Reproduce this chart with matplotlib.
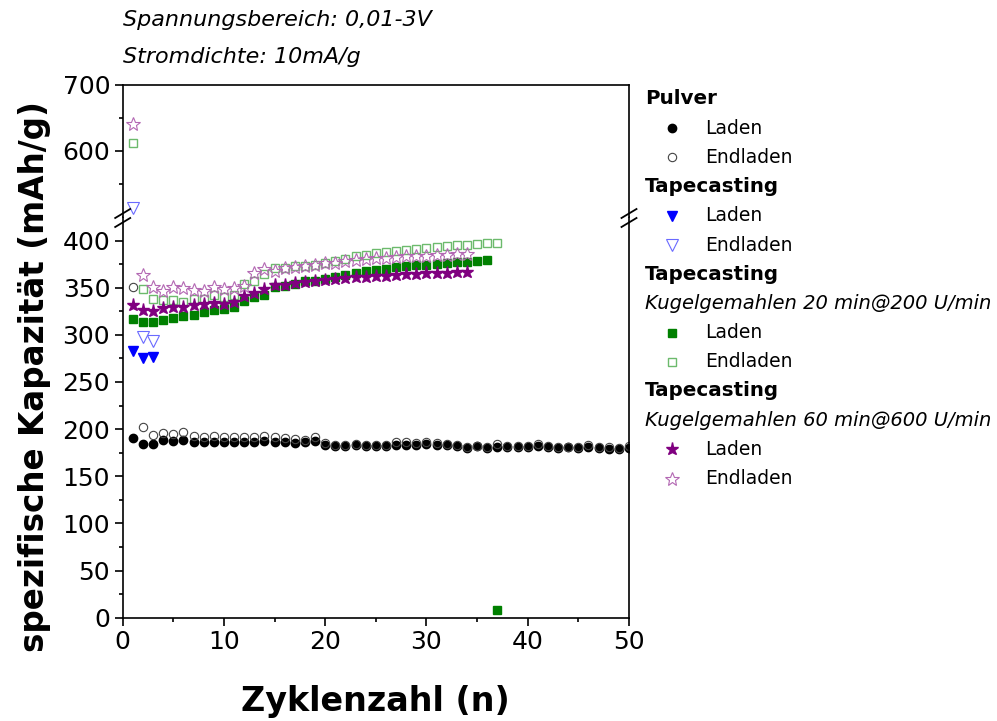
import matplotlib
matplotlib.use('Agg')
import matplotlib.pyplot as plt
from matplotlib.lines import Line2D
import numpy as np

# ---------------- data ----------------
pulver_laden = [190.1, 184.5, 184.5, 188.0, 187.3, 188.7, 186.6, 186.6, 186.6, 185.9,
                186.6, 185.9, 186.6, 187.3, 186.6, 186.6, 185.2, 185.9, 187.3, 183.0,
                182.3, 181.6, 183.0, 181.6, 181.6, 181.6, 183.7, 183.7, 183.7, 184.5,
                183.7, 183.0, 182.3, 180.2, 182.0, 180.0, 181.0, 181.0, 181.0, 181.0,
                182.0, 181.0, 180.0, 181.0, 180.5, 181.0, 180.0, 179.0, 179.0, 179.5]
pulver_endladen = [351.0, 202.1, 194.3, 196.0, 195.0, 197.2, 192.2, 191.5, 193.0, 191.5,
                   191.5, 191.5, 191.5, 192.2, 191.5, 190.1, 189.4, 188.7, 191.5, 185.2,
                   183.7, 183.0, 184.5, 183.0, 183.0, 183.0, 185.9, 185.9, 185.2, 185.9,
                   185.2, 184.5, 183.7, 181.2, 182.5, 181.0, 184.0, 182.0, 182.0, 182.0,
                   184.0, 182.0, 181.5, 181.5, 181.5, 183.0, 181.0, 181.0, 180.5, 182.0]
tape_laden = [283, 275, 276]
tape_endladen = [514, 298, 294]
kug20_laden = [317, 313.5, 314, 316, 317.4, 320, 321, 324.5, 326, 327,
               330, 335.5, 340, 342, 350.4, 352, 354, 356.7, 357.4, 358.9,
               361, 363.8, 365.2, 367.4, 369.1, 370.2, 371.6, 372.7, 373.8, 374.5,
               375.2, 375.9, 377, 377.7, 378.7, 379.8, 8]
kug20_endladen = [612, 348.6, 337.6, 336.5, 336.5, 335, 338, 338.3, 342, 340,
                  342.5, 354, 356.7, 364.5, 370.6, 371.3, 373, 373.4, 374, 376,
                  378, 380.5, 383.3, 384.8, 386.5, 388, 389.4, 390.4, 391.5, 392.2,
                  392.9, 394, 395, 395.7, 396, 397, 397.9]
kug60_laden = [332, 326.6, 325, 328, 330, 330, 332, 332.6, 333.7, 332.6,
               335, 341.5, 344, 349, 352.5, 353, 355, 355.7, 356.7, 358.2,
               359.2, 360.3, 361, 361.7, 362, 362.4, 363.5, 364.2, 364.5, 365.2,
               365.6, 366, 366.7, 367]
kug60_endladen = [641, 363.8, 350.4, 347, 351, 349.6, 347.5, 346, 350.4, 348.6,
                  349.3, 352, 365.6, 369.5, 368, 370.6, 371.6, 373.4, 374.1, 375.9,
                  376.6, 378.4, 379.4, 380.5, 381.2, 381.9, 382.6, 383.3, 383.7, 384,
                  384.8, 385.1, 385.5, 385.8]

lo_ticks = list(range(0, 401, 50))
hi_ticks = [600, 700]
x_ticks = list(range(0, 51, 10))

styles = [
    (pulver_laden, dict(marker='o', mfc='black', mec='black', ms=6)),
    (pulver_endladen, dict(marker='o', mfc='none', mec='#444444', ms=6, mew=0.8)),
    (tape_laden, dict(marker='v', mfc='#0000ff', mec='#0000ff', ms=7.5)),
    (tape_endladen, dict(marker='v', mfc='none', mec='#6a6aff', ms=8, mew=0.8)),
    (kug20_laden, dict(marker='s', mfc='#008000', mec='#008000', ms=5.7)),
    (kug20_endladen, dict(marker='s', mfc='none', mec='#6cba6c', ms=6, mew=1.0)),
    (kug60_laden, dict(marker='*', mfc='#800080', mec='#800080', ms=9.5)),
    (kug60_endladen, dict(marker='*', mfc='none', mec='#b368b3', ms=10, mew=0.8)),
]

W, H = 997, 721
fig = plt.figure(figsize=(W / 100, H / 100), dpi=100)
L = 122.7 / W
R = 629 / W
yb = 1 - 617.7 / H
ybrk = 1 - 217 / H
ytop = 1 - 85 / H
ax_lo = fig.add_axes([L, yb, R - L, ybrk - yb])
ax_hi = fig.add_axes([L, ybrk, R - L, ytop - ybrk])

for ax in (ax_lo, ax_hi):
    for vals, st in styles:
        n = np.arange(1, len(vals) + 1)
        ax.plot(n, vals, linestyle='none', **st)
    ax.set_xlim(0, 50)
    for s in ax.spines.values():
        s.set_linewidth(1.2)
    ax.tick_params(which='major', direction='out', length=5.5, width=1.2, labelsize=18)
    ax.tick_params(which='minor', direction='out', length=3, width=1.2)

ax_lo.set_ylim(0, 425)
ax_lo.set_yticks(lo_ticks)
ax_lo.set_yticks(np.arange(25, 425, 50), minor=True)
ax_lo.set_xticks(x_ticks)
ax_lo.set_xticks(np.arange(5, 50, 10), minor=True)
ax_lo.spines['top'].set_visible(False)
ax_lo.set_xlabel('Zyklenzahl (n)', fontsize=24, fontweight='bold', labelpad=22)

ax_hi.set_ylim(500, 700)
ax_hi.set_yticks(hi_ticks)
ax_hi.set_yticks([550, 650], minor=True)
ax_hi.spines['bottom'].set_visible(False)
ax_hi.tick_params(axis='x', which='both', bottom=False, labelbottom=False)

fig.text(35 / W, 1 - 377 / H, 'spezifische Kapazität (mAh/g)', rotation=90,
         fontsize=23.5, fontweight='bold', ha='center', va='center')

# axis break marks
def px(x, y):
    return (x / W, 1 - y / H)

for xc in (122.7, 629):
    for yc in (213.5, 222.5):
        x0, y0 = px(xc - 7.5, yc + 4.5)
        x1, y1 = px(xc + 7.5, yc - 4.5)
        fig.add_artist(Line2D([x0, x1], [y0, y1], color='black', lw=1.3))

# header text
fig.text(123 / W, 1 - 20 / H, 'Spannungsbereich: 0,01-3V', style='italic', fontsize=16, va='center')
fig.text(123 / W, 1 - 57 / H, 'Stromdichte: 10mA/g', style='italic', fontsize=16, va='center')

# legend
rows = [
    ('head', 'Pulver', None),
    ('item', 'Laden', 0),
    ('item', 'Endladen', 1),
    ('head', 'Tapecasting', None),
    ('item', 'Laden', 2),
    ('item', 'Endladen', 3),
    ('head', 'Tapecasting', None),
    ('sub', 'Kugelgemahlen 20 min@200 U/min', None),
    ('item', 'Laden', 4),
    ('item', 'Endladen', 5),
    ('head', 'Tapecasting', None),
    ('sub', 'Kugelgemahlen 60 min@600 U/min', None),
    ('item', 'Laden', 6),
    ('item', 'Endladen', 7),
]
y0 = 99
dy = 29.2
for i, (kind, txt, si) in enumerate(rows):
    yy = 1 - (y0 + i * dy) / H
    if kind == 'head':
        fig.text(645 / W, yy, txt, fontsize=14.3, fontweight='bold', va='center')
    elif kind == 'sub':
        fig.text(645 / W, yy, txt, fontsize=14, style='italic', va='center')
    else:
        st = styles[si][1]
        fig.add_artist(Line2D([672 / W], [yy], linestyle='none', **st))
        fig.text(705 / W, yy, txt, fontsize=13.5, va='center')

fig.savefig('out.png', dpi=100)
